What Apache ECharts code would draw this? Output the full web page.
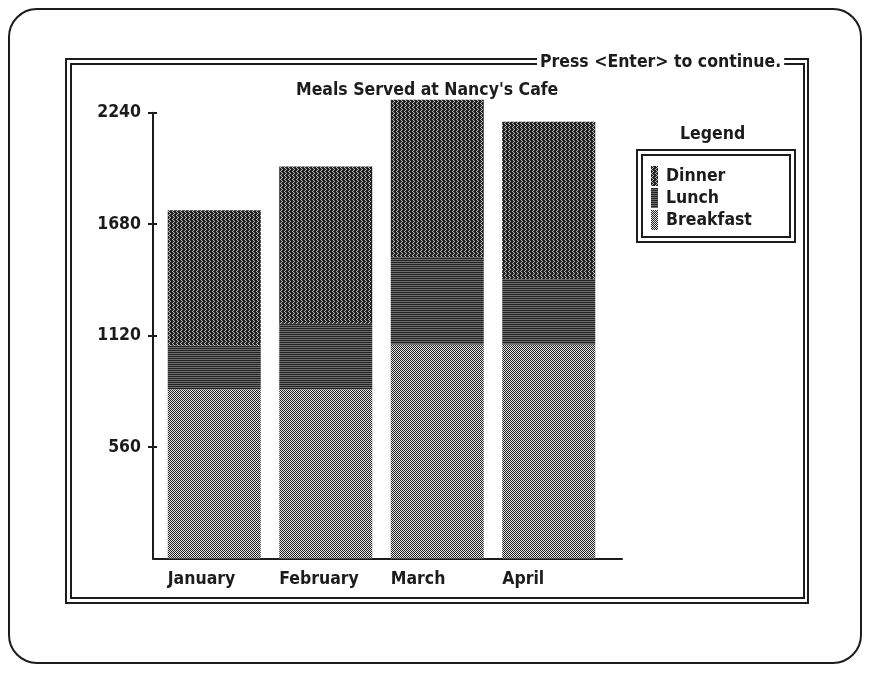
<!DOCTYPE html>
<html>
<head>
<meta charset="utf-8">
<script src="https://cdn.jsdelivr.net/npm/echarts@6/dist/echarts.min.js"></script>
<style>
  html, body { margin: 0; padding: 0; background: #fff; }
  #chart { width: 869px; height: 673px; }
</style>
</head>
<body>
<div id="chart"></div>
<script>
// data
const months = ['January', 'February', 'March', 'April']
const breakfast = [850, 850, 1075, 1075]
const lunch = [220, 330, 440, 330]
const dinner = [680, 790, 790, 790]
const yTicks = [560, 1120, 1680, 2240]

const FONT = "'DejaVu Sans Condensed', 'Liberation Sans', sans-serif"
const INK = '#1c1c1c'

// little dither tiles, like the old screen patterns
function tile(rows, light) {
  const c = document.createElement('canvas')
  c.width = rows[0].length; c.height = rows.length
  const ctx = c.getContext('2d')
  rows.forEach((row, y) => {
    row.split('').forEach((ch, x) => {
      ctx.fillStyle = ch === '#' ? '#222' : ch === '+' ? '#6e6e6e' : light
      ctx.fillRect(x, y, 1, 1)
    })
  })
  return { image: c, repeat: 'repeat' }
}
const patBreakfast = tile(['#.', '.#'], '#e4e4e4')
const patLunch = tile(['##', '++'], '#e4e4e4')
const patDinner = tile(['#.##', '##.#', '#.##', '.###'], '#bdbdbd')

const chart = echarts.init(document.getElementById('chart'))

const txt = { fontFamily: FONT, fontSize: 17.5, fontWeight: 'bold', color: INK }

chart.setOption({
  animation: false,
  backgroundColor: '#fff',
  title: [
    { text: "Meals Served at Nancy's Cafe", left: 296, top: 81, padding: 0, textStyle: txt },
    { text: 'Legend', left: 680, top: 125, padding: 0, textStyle: txt },
    { text: 'Press <Enter> to continue.', left: 537, top: 52, padding: [1, 3], backgroundColor: '#fff', z: 20, textStyle: txt }
  ],
  graphic: [
    { type: 'rect', z: 0, silent: true, shape: { x: 9, y: 9, width: 852, height: 654, r: 28 }, style: { fill: 'none', stroke: INK, lineWidth: 2 } },
    { type: 'rect', z: 0, silent: true, shape: { x: 66, y: 59, width: 742, height: 544 }, style: { fill: 'none', stroke: INK, lineWidth: 2 } },
    { type: 'rect', z: 0, silent: true, shape: { x: 71, y: 64, width: 733, height: 534 }, style: { fill: 'none', stroke: INK, lineWidth: 2 } },
    { type: 'rect', z: 0, silent: true, shape: { x: 637, y: 150, width: 158, height: 92 }, style: { fill: 'none', stroke: INK, lineWidth: 2 } },
    { type: 'rect', z: 0, silent: true, shape: { x: 642, y: 155, width: 148, height: 82 }, style: { fill: 'none', stroke: INK, lineWidth: 2 } }
  ],
  legend: {
    data: ['Dinner', 'Lunch', 'Breakfast'],
    orient: 'vertical', left: 651, top: 166, padding: 0,
    icon: 'rect', itemWidth: 7, itemHeight: 20, itemGap: 2,
    textStyle: { ...txt, padding: [0, 0, 0, 3] }
  },
  grid: [
    { left: 153, right: 247, top: 112.7, bottom: 114.5 },
    { left: 158.5, right: 264.5, top: 112.7, bottom: 114.5 }
  ],
  xAxis: [
    {
      gridIndex: 0, type: 'value', min: 0, max: 1,
      axisLine: { lineStyle: { color: INK, width: 2 } },
      axisTick: { show: false }, axisLabel: { show: false }, splitLine: { show: false }
    },
    {
      gridIndex: 1, type: 'category', data: months,
      axisLine: { show: false }, axisTick: { show: false },
      axisLabel: {
        margin: 12, formatter: v => '{a|' + v + '}',
        rich: { a: { ...txt, width: 93, align: 'left' } }
      }
    }
  ],
  yAxis: [
    {
      gridIndex: 0, type: 'value', min: 0, max: 2240, position: 'left',
      axisLine: { show: true, lineStyle: { color: INK, width: 2 } },
      axisTick: { show: true, length: 5, customValues: yTicks, lineStyle: { color: INK, width: 2 } },
      axisLabel: { ...txt, margin: 12, customValues: yTicks, formatter: v => String(v) },
      splitLine: { show: false }
    },
    {
      gridIndex: 0, type: 'value', min: 0, max: 2240, position: 'left',
      axisLine: { show: false },
      axisTick: { show: true, inside: true, length: 4, customValues: yTicks, lineStyle: { color: INK, width: 2 } },
      axisLabel: { show: false }, splitLine: { show: false }
    },
    { gridIndex: 1, type: 'value', min: 0, max: 2240, show: false, splitLine: { show: false } }
  ],
  series: [
    { name: 'Breakfast', type: 'bar', stack: 'meals', data: breakfast, xAxisIndex: 1, yAxisIndex: 2, barWidth: 93, clip: false, itemStyle: { color: patBreakfast } },
    { name: 'Lunch', type: 'bar', stack: 'meals', data: lunch, xAxisIndex: 1, yAxisIndex: 2, barWidth: 93, clip: false, itemStyle: { color: patLunch } },
    { name: 'Dinner', type: 'bar', stack: 'meals', data: dinner, xAxisIndex: 1, yAxisIndex: 2, barWidth: 93, clip: false, itemStyle: { color: patDinner } }
  ]
})
</script>
</body>
</html>
